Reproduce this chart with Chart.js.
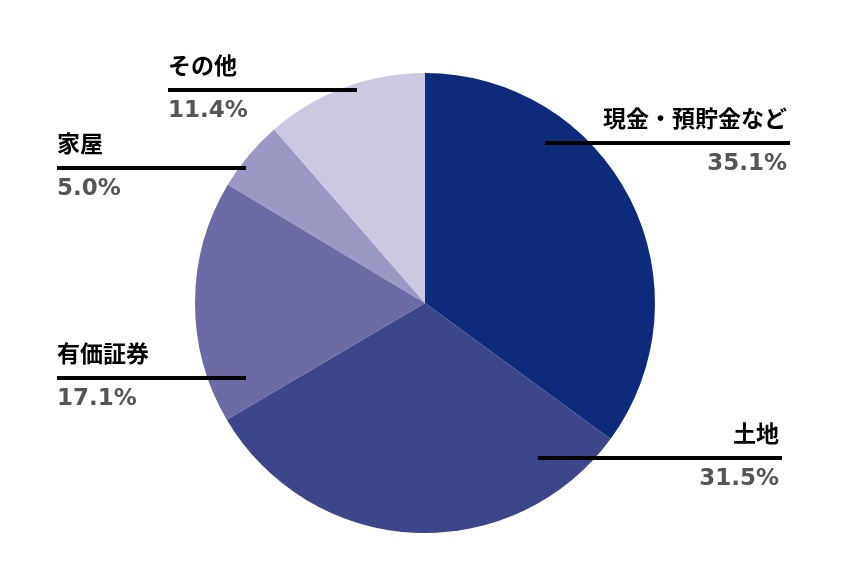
<!DOCTYPE html>
<html>
<head>
<meta charset="utf-8">
<script src="https://cdn.jsdelivr.net/npm/chart.js@4"></script>
<style>
  html, body { margin: 0; padding: 0; background: #fff; }
  #wrap { width: 864px; height: 578px; }
</style>
</head>
<body>
<div id="wrap"><canvas id="c" width="864" height="578"></canvas></div>
<script>
  'use strict';

  // data
  var categories = ['現金・預貯金など', '土地', '有価証券', '家屋', 'その他'];
  var shares = [35.1, 31.5, 17.1, 5.0, 11.4];
  var sliceColors = ['#0e2b7b', '#3d468a', '#6c6ba6', '#9b98c3', '#cbc8e0'];

  // where each callout line sits: [x1, x2, y, align]
  var callouts = [
    [545, 790, 143, 'right'],
    [538, 782, 458, 'right'],
    [57, 246, 378, 'left'],
    [57, 246, 168, 'left'],
    [168, 357, 90, 'left']
  ];

  var calloutPlugin = {
    id: 'callouts',
    afterDatasetsDraw: function (chart) {
        var ctx = chart.ctx;
        var values = chart.data.datasets[0].data;
        ctx.save();
        chart.data.labels.forEach(function (label, i) {
            var c = callouts[i];
            ctx.strokeStyle = '#000';
            ctx.lineWidth = 4;
            ctx.beginPath();
            ctx.moveTo(c[0], c[2]);
            ctx.lineTo(c[1], c[2]);
            ctx.stroke();

            var tx = c[3] === 'right' ? c[1] - 3 : c[0];
            ctx.textAlign = c[3];
            ctx.textBaseline = 'alphabetic';
            ctx.fillStyle = '#000';
            ctx.font = 'bold 23px "Noto Sans CJK JP", sans-serif';
            ctx.fillText(label, tx, c[2] - 16);
            ctx.fillStyle = '#555555';
            ctx.font = 'bold 23px "DejaVu Sans", sans-serif';
            ctx.fillText(values[i].toFixed(1) + '%', tx, c[2] + 27);
        });
        ctx.restore();
    }
  };

  new Chart(document.getElementById('c'), {
    type: 'pie',
    data: {
        labels: categories,
        datasets: [{
            data: shares,
            backgroundColor: sliceColors,
            borderWidth: 0
        }]
    },
    options: {
        responsive: false,
        animation: false,
        layout: { padding: { top: 73, bottom: 45, left: 195, right: 209 } },
        plugins: {
            legend: { display: false },
            tooltip: { enabled: false }
        }
    },
    plugins: [calloutPlugin]
  });
</script>
</body>
</html>
